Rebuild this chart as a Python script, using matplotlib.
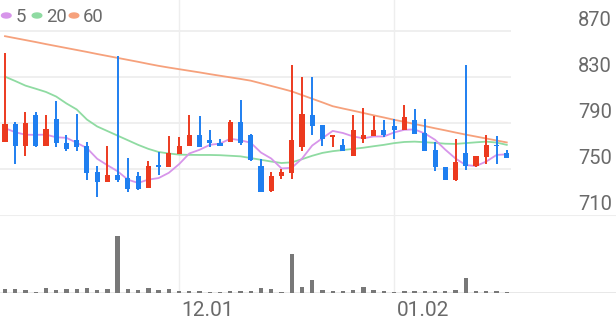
import matplotlib
matplotlib.use("Agg")
import matplotlib.pyplot as plt

plt.rcParams['font.family'] = ['Roboto', 'DejaVu Sans']

# ---------------- data ----------------
opens = [773.3, 789.3, 770.4, 797.2, 770.4, 793.1, 772.8, 774.8, 769.8, 747.1,
         738.4, 745.1, 741.9, 744.2, 733.5, 753.6, 751.5, 763.2, 770.4, 779.2,
         775.4, 772.8, 773.9, 790.8, 780.0, 753.0, 731.1, 744.2, 746.6, 769.0,
         796.6, 788.5, 777.7, 771.0, 761.7, 776.3, 778.6, 783.5, 787.3, 783.5,
         792.3, 781.2, 766.9, 752.1, 740.7, 763.7, 752.4, 760.2, 771.0, 764.0]
highs = [850.7, 790.8, 799.5, 799.5, 797.2, 808.8, 779.7, 798.1, 773.9, 753.0,
         769.8, 848.1, 759.4, 747.1, 757.3, 765.2, 778.6, 777.7, 797.2, 795.7,
         783.5, 776.3, 792.8, 810.3, 780.5, 758.8, 747.1, 750.0, 840.3, 830.1,
         830.1, 788.5, 779.2, 776.3, 797.2, 803.0, 795.7, 792.8, 793.7, 805.4,
         801.9, 793.7, 773.9, 752.1, 775.7, 840.3, 761.7, 779.2, 778.3, 766.6]
lows = [773.3, 754.4, 761.1, 769.0, 770.4, 769.0, 766.0, 766.0, 740.7, 725.3,
        738.4, 738.4, 729.7, 732.0, 733.5, 744.8, 751.5, 763.2, 770.4, 769.0,
        769.0, 769.8, 773.9, 771.0, 757.0, 730.3, 729.7, 741.3, 741.3, 766.0,
        779.7, 770.4, 769.0, 766.0, 761.7, 772.8, 778.6, 777.7, 775.7, 783.5,
        780.6, 766.0, 748.6, 740.7, 739.9, 749.5, 751.5, 754.4, 754.4, 759.4]
closes = [789.3, 770.4, 790.2, 769.8, 785.0, 772.8, 767.5, 769.0, 746.6, 738.4,
          745.1, 740.7, 732.6, 732.6, 753.0, 751.5, 764.0, 769.8, 779.2, 769.0,
          772.8, 769.8, 790.8, 772.8, 757.9, 730.3, 743.7, 747.7, 775.4, 798.1,
          787.3, 775.7, 779.2, 766.0, 783.5, 779.2, 783.5, 779.2, 783.5, 795.2,
          780.6, 766.0, 751.5, 740.7, 756.5, 752.4, 761.7, 771.0, 769.6, 759.4]

ma5 = [785.5, 782.0, 779.8, 779.7, 779.9, 777.6, 777.1, 772.8, 768.2, 758.9,
       753.3, 748.0, 740.7, 737.9, 740.8, 742.1, 746.7, 754.2, 763.5, 766.7,
       771.0, 772.1, 776.3, 775.0, 772.8, 764.3, 759.1, 750.5, 751.0, 759.0,
       770.4, 776.8, 783.1, 781.3, 778.3, 776.7, 778.3, 778.3, 781.8, 784.1,
       784.4, 780.9, 775.4, 766.8, 759.1, 753.4, 752.6, 756.5, 762.2, 762.8]
ma20 = [830.3, 826.5, 822.5, 819.8, 817.0, 813.0, 807.0, 801.8, 793.0, 787.0,
        783.0, 779.0, 775.0, 771.0, 767.5, 764.8, 763.5, 762.5, 762.3, 762.2,
        762.2, 762.0, 761.5, 761.0, 759.5, 758.0, 756.5, 755.2, 755.8, 758.5,
        761.5, 764.0, 765.5, 766.5, 767.5, 768.5, 769.8, 771.0, 772.5, 773.5,
        773.8, 773.3, 772.7, 772.0, 771.8, 772.5, 773.2, 773.8, 773.0, 771.0]
ma60 = [865.5, 863.8, 862.1, 860.4, 858.6, 856.9, 855.2, 853.5, 851.8, 850.0,
        848.3, 846.6, 844.9, 843.2, 841.4, 839.7, 838.2, 836.8, 835.4, 834.0,
        832.5, 831.1, 829.7, 828.3, 826.8, 824.5, 822.2, 819.9, 817.5, 814.3,
        811.1, 807.9, 804.6, 802.6, 800.7, 798.7, 796.7, 794.8, 792.8, 791.0,
        789.1, 787.3, 785.4, 783.6, 781.7, 779.9, 778.2, 776.5, 774.8, 773.1]
volume = [4.0, 4.0, 3.3, 1.3, 4.7, 3.0, 3.7, 3.7, 5.3, 3.3,
          4.3, 57.3, 4.3, 3.3, 5.3, 3.0, 4.0, 2.3, 2.3, 2.0,
          1.3, 1.0, 1.7, 1.7, 2.0, 5.0, 4.3, 0.7, 39.3, 5.8,
          13.3, 3.3, 1.7, 2.0, 3.3, 6.0, 3.3, 2.0, 0.7, 1.7,
          1.7, 1.7, 2.3, 2.0, 3.3, 15.0, 1.7, 1.7, 1.7, 0.7]

price_ticks = [870, 830, 790, 750, 710]
date_labels = ["12.01", "01.02"]
date_index = [17, 38]
legend_labels = ["5", "20", "60"]

# ---------------- styling ----------------
RED = '#ec3a1f'
BLUE = '#1f7ff0'
C5 = '#d795ea'
C20 = '#8fdba2'
C60 = '#f6a17c'
GRID = '#eeeeee'
TXT = '#6a6a6a'
VOL = '#787878'

W, H, DPI = 616, 321, 100
fig = plt.figure(figsize=(W / DPI, H / DPI), dpi=DPI)

SP = 10.24  # px per candle
X0 = 5.0    # px of first candle
xmin = (0 - X0) / SP
xmax = (W - X0) / SP
grid_end = (511 - X0) / SP

# price axis: px rows 0..215 ; 710 at 215, 1.15 px per unit
PPU = 1.15
ax = fig.add_axes([0, (H - 215) / H, 1, 215 / H])
ax.set_xlim(xmin, xmax)
ax.set_ylim(710, 710 + 215 / PPU)
ax.axis('off')

n = len(closes)
xs = list(range(n))

for v in price_ticks[:-1]:
    ax.plot([xmin, grid_end], [v, v], color=GRID, lw=1.3, zorder=0, solid_capstyle='butt')

for di in date_index:
    ax.axvline(di, color=GRID, lw=1.0, zorder=0)

# moving averages
ax.plot(xs, ma60, color=C60, lw=1.3, zorder=1)
ax.plot(xs, ma20, color=C20, lw=1.3, zorder=1)
ax.plot(xs, ma5, color=C5, lw=1.3, zorder=1)

# candles
cols = [RED if c >= o else BLUE for o, c in zip(opens, closes)]
ax.vlines(xs, lows, highs, colors=cols, lw=1.4, zorder=2)
bottoms = [min(o, c) for o, c in zip(opens, closes)]
heights = [max(abs(c - o), 1.0) for o, c in zip(opens, closes)]
ax.bar(xs, heights, bottom=bottoms, width=0.5, color=cols, zorder=3, linewidth=0)

# price labels (above their grid line, right side)
for v in price_ticks:
    ax.text((612 - X0) / SP, v + 5.5 / PPU, str(v), ha='right', va='baseline',
            fontsize=14.5, color=TXT, zorder=5)

# legend
for lab, cx, tx, col in zip(legend_labels, [6.3, 37, 74], [16, 46.5, 83], [C5, C20, C60]):
    fig.patches.append(matplotlib.patches.Circle((cx / W, 1 - 15.5 / H), 4.8 / W,
                                                 transform=fig.transFigure, color=col,
                                                 figure=fig))
    fig.text(tx / W, 1 - 21.5 / H, lab, ha='left', va='baseline',
             fontsize=13.3, color=TXT)

# volume axis: px rows 215..293
vax = fig.add_axes([0, (H - 293) / H, 1, 78 / H])
vax.set_xlim(xmin, xmax)
vax.set_ylim(0, 78)
vax.axis('off')
vax.bar(xs, volume, width=0.42, color=VOL, linewidth=0, zorder=2)
vax.axhline(78, color=GRID, lw=1.5, zorder=0)
vax.axhline(0, color='#e6e6e6', lw=1.3, zorder=0)
for di in date_index:
    vax.axvline(di, color=GRID, lw=1.0, zorder=0)

# date labels
for di, lab in zip(date_index, date_labels):
    vax.text(di + 2.5 / SP, -8, lab, ha='left', va='top', fontsize=15,
             color=TXT, transform=vax.transData, clip_on=False)

fig.savefig('out.png', dpi=DPI)
